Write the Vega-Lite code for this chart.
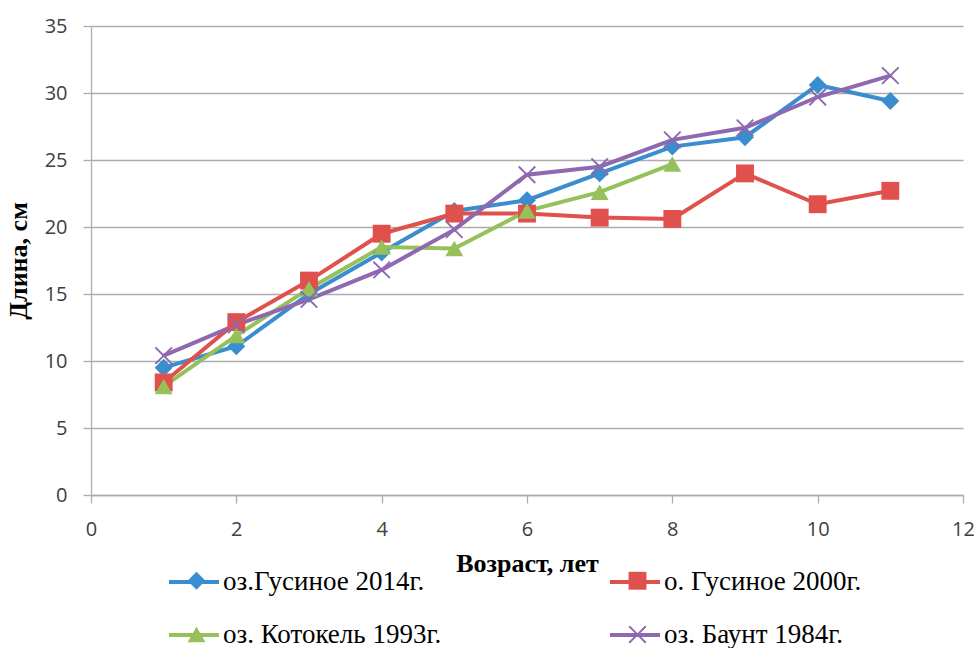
{
  "$schema": "https://vega.github.io/schema/vega-lite/v6.json",
  "width": 872,
  "height": 469,
  "autosize": "none",
  "padding": {"left": 91, "top": 26, "right": 11, "bottom": 153},
  "background": "white",
  "config": {
    "view": {"stroke": null},
    "axis": {
      "labelFont": "Open Sans",
      "labelFontSize": 20,
      "labelColor": "#404040",
      "labelFlush": false,
      "titleFont": "Liberation Serif",
      "titleFontSize": 26,
      "titleFontWeight": "bold",
      "titleColor": "#000000",
      "domainColor": "#ADADAD",
      "domainWidth": 1.3,
      "tickColor": "#ADADAD",
      "tickWidth": 1.3,
      "tickSize": 8,
      "gridColor": "#ADADAD",
      "gridWidth": 1.3
    }
  },
  "data": {
    "values": [
      {"age": 1, "len": 9.5, "series": "оз.Гусиное 2014г."},
      {"age": 2, "len": 11.1, "series": "оз.Гусиное 2014г."},
      {"age": 3, "len": 15.0, "series": "оз.Гусиное 2014г."},
      {"age": 4, "len": 18.1, "series": "оз.Гусиное 2014г."},
      {"age": 5, "len": 21.2, "series": "оз.Гусиное 2014г."},
      {"age": 6, "len": 22.0, "series": "оз.Гусиное 2014г."},
      {"age": 7, "len": 24.0, "series": "оз.Гусиное 2014г."},
      {"age": 8, "len": 26.0, "series": "оз.Гусиное 2014г."},
      {"age": 9, "len": 26.7, "series": "оз.Гусиное 2014г."},
      {"age": 10, "len": 30.6, "series": "оз.Гусиное 2014г."},
      {"age": 11, "len": 29.4, "series": "оз.Гусиное 2014г."},
      {"age": 1, "len": 8.4, "series": "о. Гусиное 2000г."},
      {"age": 2, "len": 12.9, "series": "о. Гусиное 2000г."},
      {"age": 3, "len": 16.0, "series": "о. Гусиное 2000г."},
      {"age": 4, "len": 19.5, "series": "о. Гусиное 2000г."},
      {"age": 5, "len": 21.0, "series": "о. Гусиное 2000г."},
      {"age": 6, "len": 21.0, "series": "о. Гусиное 2000г."},
      {"age": 7, "len": 20.7, "series": "о. Гусиное 2000г."},
      {"age": 8, "len": 20.6, "series": "о. Гусиное 2000г."},
      {"age": 9, "len": 24.0, "series": "о. Гусиное 2000г."},
      {"age": 10, "len": 21.7, "series": "о. Гусиное 2000г."},
      {"age": 11, "len": 22.7, "series": "о. Гусиное 2000г."},
      {"age": 1, "len": 8.1, "series": "оз. Котокель 1993г."},
      {"age": 2, "len": 11.9, "series": "оз. Котокель 1993г."},
      {"age": 3, "len": 15.4, "series": "оз. Котокель 1993г."},
      {"age": 4, "len": 18.5, "series": "оз. Котокель 1993г."},
      {"age": 5, "len": 18.4, "series": "оз. Котокель 1993г."},
      {"age": 6, "len": 21.2, "series": "оз. Котокель 1993г."},
      {"age": 7, "len": 22.6, "series": "оз. Котокель 1993г."},
      {"age": 8, "len": 24.7, "series": "оз. Котокель 1993г."},
      {"age": 1, "len": 10.4, "series": "оз. Баунт 1984г."},
      {"age": 2, "len": 12.7, "series": "оз. Баунт 1984г."},
      {"age": 3, "len": 14.6, "series": "оз. Баунт 1984г."},
      {"age": 4, "len": 16.8, "series": "оз. Баунт 1984г."},
      {"age": 5, "len": 19.8, "series": "оз. Баунт 1984г."},
      {"age": 6, "len": 23.9, "series": "оз. Баунт 1984г."},
      {"age": 7, "len": 24.5, "series": "оз. Баунт 1984г."},
      {"age": 8, "len": 26.5, "series": "оз. Баунт 1984г."},
      {"age": 9, "len": 27.4, "series": "оз. Баунт 1984г."},
      {"age": 10, "len": 29.7, "series": "оз. Баунт 1984г."},
      {"age": 11, "len": 31.3, "series": "оз. Баунт 1984г."}
    ]
  },
  "encoding": {
    "x": {
      "field": "age",
      "type": "quantitative",
      "scale": {"domain": [0, 12], "nice": false},
      "axis": {
        "title": "Возраст, лет",
        "values": [0, 2, 4, 6, 8, 10, 12],
        "grid": false,
        "labelPadding": 16,
        "titlePadding": 11
      }
    },
    "y": {
      "field": "len",
      "type": "quantitative",
      "scale": {"domain": [0, 35], "nice": false},
      "axis": {
        "title": "Длина, см",
        "values": [0, 5, 10, 15, 20, 25, 30, 35],
        "grid": true,
        "labelPadding": 16,
        "titlePadding": 13
      }
    }
  },
  "layer": [
    {
      "mark": {"type": "line", "strokeWidth": 4},
      "encoding": {
        "color": {
          "field": "series",
          "type": "nominal",
          "scale": {
            "domain": ["оз.Гусиное 2014г.", "о. Гусиное 2000г.", "оз. Котокель 1993г.", "оз. Баунт 1984г."],
            "range": ["#3A8DCE", "#E0504C", "#96C05A", "#8E68B0"]
          },
          "legend": {
            "orient": "none",
            "direction": "horizontal",
            "legendX": 76,
            "legendY": 529,
            "columns": 2,
            "title": null,
            "padding": 0,
            "symbolType": "stroke",
            "symbolSize": 2500,
            "symbolStrokeWidth": 4,
            "labelFont": "Liberation Serif",
            "labelFontSize": 27,
            "labelColor": "#000000",
            "labelOffset": 2,
            "labelLimit": 400,
            "columnPadding": 160,
            "rowPadding": 13
          }
        },
        "detail": {"field": "series"}
      }
    },
    {
      "mark": {"type": "point", "filled": true, "size": 320, "opacity": 1},
      "encoding": {
        "color": {
          "field": "series",
          "type": "nominal",
          "legend": {
            "orient": "none",
            "direction": "horizontal",
            "legendX": 92,
            "legendY": 541,
            "columns": 2,
            "title": null,
            "padding": 0,
            "symbolSize": 320,
            "symbolOpacity": 1,
            "symbolStrokeWidth": 0,
            "labelExpr": "''",
            "labelFont": "Liberation Serif",
            "labelFontSize": 27,
            "labelOffset": 2,
            "columnPadding": 412,
            "rowPadding": 26
          }
        },
        "shape": {
          "field": "series",
          "type": "nominal",
          "scale": {
            "domain": ["оз.Гусиное 2014г.", "о. Гусиное 2000г.", "оз. Котокель 1993г.", "оз. Баунт 1984г."],
            "range": ["diamond", "square", "triangle-up", "M-1,-0.85L-0.85,-1L0,-0.15L0.85,-1L1,-0.85L0.15,0L1,0.85L0.85,1L0,0.15L-0.85,1L-1,0.85L-0.15,0Z"]
          }
        }
      }
    }
  ],
  "resolve": {"legend": {"color": "independent", "shape": "independent"}}
}
